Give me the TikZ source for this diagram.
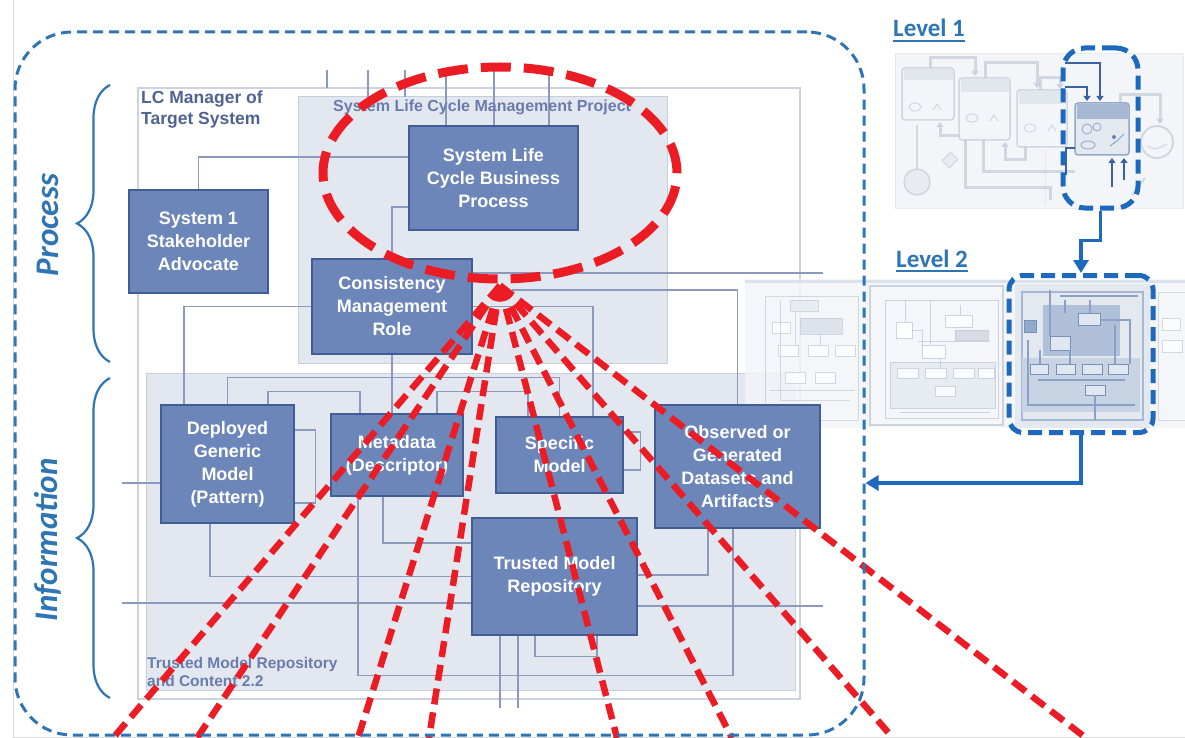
\documentclass[tikz,border=0pt]{standalone}
\usepackage{fontspec}
\setmainfont{Liberation Sans}
\newfontfamily\headfont{Carlito}
\usetikzlibrary{shapes.geometric,calc,decorations.pathreplacing,arrows.meta}

\definecolor{boxfill}{HTML}{6C86BA}
\definecolor{boxedge}{HTML}{415D95}
\definecolor{wire}{HTML}{8B99BC}
\definecolor{panel}{HTML}{E3E7EF}
\definecolor{paneledge}{HTML}{C6CDDB}
\definecolor{frameline}{HTML}{CCD3E0}
\definecolor{outline}{HTML}{2E75B6}
\definecolor{hilite}{HTML}{1C69BE}
\definecolor{alert}{HTML}{EC1C24}
\definecolor{caption}{HTML}{4F6291}
\definecolor{captionlight}{HTML}{6A7CAC}
\definecolor{thumbbg}{HTML}{F3F5F9}
\definecolor{thumbedge}{HTML}{DCE2EB}
\definecolor{thumbline}{HTML}{C3CBD8}
\definecolor{thumbfill}{HTML}{E4E9F0}
\definecolor{deepline}{HTML}{3A62A0}
\definecolor{pagerule}{HTML}{DADADA}

\pgfdeclarelayer{under}
\pgfsetlayers{under,main}

\begin{document}
\begin{tikzpicture}[x=1pt,y=-1pt,
  box/.style={draw=boxedge, fill=boxfill, line width=1.6pt, text=white,
    font=\fontsize{18}{23}\selectfont\bfseries, align=center, inner sep=0pt},
  wire/.style={draw=wire, line width=1.2pt},
  panelbox/.style={draw=paneledge, fill=panel, line width=1pt},
  fanline/.style={draw=alert, line width=6.5pt, dash pattern=on 16pt off 8pt},
  curly/.style={draw=outline, line width=2.2pt, decorate, decoration={brace, amplitude=33pt}},
  sidelabel/.style={rotate=90, text=outline, font=\headfont\bfseries\itshape\fontsize{33}{33}\selectfont, inner sep=0pt},
  levellabel/.style={anchor=base west, text=outline, font=\headfont\bfseries\fontsize{25}{25}\selectfont, inner sep=0pt},
  hibox/.style={draw=hilite, line width=5pt, dash pattern=on 14pt off 7pt, inner sep=0pt},
  levelarrow/.style={draw=hilite, line width=3.8pt, -{Triangle[length=13pt,width=15pt]}},
  card/.style={draw=thumbline, fill=thumbbg, line width=1.5pt, rounded corners=3pt},
  fatarrow/.style={draw=thumbline, line width=3pt, -{Triangle[length=5pt,width=7pt]}},
  darkarrow/.style={draw=deepline, line width=2.4pt, -{Triangle[length=5pt,width=7pt]}},
  mini/.style={draw=thumbline, fill=white, line width=1pt},
  minidark/.style={draw=deepline!70, fill=white!85!deepline, line width=1pt}
]
\useasboundingbox (0,0) rectangle (1185,738);

% ---------- boxes ----------
\node[box, minimum width=139pt, minimum height=103pt] (stake) at (198.5,241.5) {System 1\\Stakeholder\\Advocate};
\node[box, minimum width=169pt, minimum height=104pt] (slc)   at (493.5,178)   {System Life\\Cycle Business\\Process};
\node[box, minimum width=160pt, minimum height=95pt]  (cmr)   at (392,306.5)   {Consistency\\Management\\Role};
\node[box, minimum width=133pt, minimum height=118pt] (dgm)   at (227.5,464)   {Deployed\\Generic\\Model\\(Pattern)};
\node[box, minimum width=132pt, minimum height=82pt]  (meta)  at (397,455)     {Metadata\\(Descriptor)};
\node[box, minimum width=127pt, minimum height=76pt]  (spec)  at (559.5,455)   {Specific\\Model};
\node[box, minimum width=165pt, minimum height=123pt] (obs)   at (737.5,466.5) {Observed or\\Generated\\Datasets and\\Artifacts};
\node[box, minimum width=165pt, minimum height=117pt] (tmr)   at (554.5,576.5) {Trusted Model\\Repository};

% free ends of the wiring
\coordinate (stubA) at (327,70);
\coordinate (stubB) at (368,70);
\coordinate (stubC) at (405,70);
\coordinate (eastA) at (823,273);
\coordinate (northB) at (512,290);
\coordinate (westA) at (122,603);
\coordinate (eastB) at (823,606);
\coordinate (westB) at (122,483);

\begin{pgfonlayer}{under}
% faint page edge
\draw[pagerule, line width=0.8pt] (13,0) -- (13,737) -- (1185,737);
% frames and panels
\draw[frameline, line width=1.2pt] (138,88) rectangle (800,699);
\draw[panelbox] (298,97) rectangle (667,363);
\draw[panelbox] (146,373) rectangle (795,690);

% wiring
\draw[wire] (stubA) -- ++(0,18);
\draw[wire] (stubB) -- ++(0,27);
\draw[wire] (stubC) -- ++(0,27);
\draw[wire] ([xshift=-47.5pt]slc.north) -- ++(0,-56);
\draw[wire] ([xshift=0.5pt]slc.north) -- ++(0,-56);
\draw[wire] ([xshift=55.5pt]slc.north) -- ++(0,-56);
\draw[wire] (stake.north) |- ([yshift=21pt]slc.west);
\draw[wire] ([yshift=-29pt]slc.west) -| (cmr.north);
\draw[wire] ([yshift=33.5pt]cmr.east) -- (eastA);
\draw[wire] (obs.north) |- (northB);
\draw[wire] (cmr.east) -| ([xshift=33.5pt]spec.north);
\draw[wire] (cmr.west) -| ([xshift=-43.5pt]dgm.north);
\draw[wire] (cmr.south) -- (cmr.south |- meta.north);
\draw[wire] (dgm.north) |- ([yshift=39pt]spec.north) -- (spec.north);
\draw[wire] ([xshift=40.5pt]dgm.north) |- ([xshift=-37pt,yshift=22pt]meta.north) -- ([xshift=-37pt]meta.north);
\draw[wire] ([xshift=40pt]meta.north) |- ([xshift=-31.5pt,yshift=25pt]spec.north) -- ([xshift=-31.5pt]spec.north);
\draw[wire] ([yshift=34pt]dgm.east) -- ++(21,0) |- ([yshift=-39pt]dgm.east);
\draw[wire] ([xshift=-17.5pt]dgm.south) |- (tmr.west);
\draw[wire] ([xshift=-14pt]meta.south) |- ([yshift=33.5pt]tmr.west);
\draw[wire] (westA) -- ([yshift=-26.5pt]tmr.west);
\draw[wire] ([yshift=-29.5pt]tmr.east) -- (eastB);
\draw[wire] (westB) -- ([yshift=-19pt]dgm.west);
\draw[wire] ([xshift=-39pt]meta.south) |- ([xshift=-4.5pt,yshift=-147pt]obs.south) -- ([xshift=-4.5pt]obs.south);
\draw[wire] ([xshift=-29.5pt]obs.south) |- ([yshift=1.5pt]tmr.east);
\draw[wire] ([xshift=-54.5pt]tmr.south) -- ++(0,72);
\draw[wire] ([xshift=-36.5pt]tmr.south) -- ++(0,72);
\draw[wire] ([xshift=-19.5pt]tmr.south) |- ([xshift=42.5pt,yshift=-21pt]tmr.south) -- ([xshift=42.5pt]tmr.south);
\draw[wire] ([yshift=23pt]spec.east) -- ++(17,0) |- ([yshift=-15pt]spec.east);

% level 2 strip (faded)
\fill[thumbbg, opacity=.85] (745,279) rectangle (1185,428);
\draw[thumbedge, line width=3pt] (745,281) -- (1185,281);
\begin{scope}[line width=1pt, opacity=.7]
  \draw[thumbline] (765,296) rectangle (858,420);
  \draw[mini, fill=thumbfill] (790,300) rectangle (818,311);
  \draw[mini, fill=thumbline!70] (800,318) rectangle (842,334);
  \draw[mini] (772,322) rectangle (790,333);
  \draw[mini] (778,345) rectangle (798,356);
  \draw[mini] (808,345) rectangle (828,356);
  \draw[mini] (835,345) rectangle (855,356);
  \draw[mini] (785,372) rectangle (805,383);
  \draw[mini] (815,372) rectangle (835,383);
  \draw[thumbline] (780,300) -- (780,400) -- (850,400);
  \draw[thumbline] (770,390) -- (855,390);
  \draw[thumbline] (795,311) -- (795,345) (820,334) -- (820,345);
\end{scope}
\end{pgfonlayer}

% level 2 strip, remaining parts
\begin{scope}[line width=1pt, opacity=.8]
  \draw[thumbline, line width=2pt] (870,286) rectangle (1003,425);
  \draw[thumbline] (885,300) rectangle (998,418);
  \draw[mini] (896,322) rectangle (912,338);
  \draw[mini] (945,315) rectangle (972,327);
  \draw[mini, fill=thumbline!80] (955,330) rectangle (988,340);
  \draw[mini] (922,345) rectangle (945,358);
  \draw[thumbline, fill=thumbfill] (890,362) rectangle (995,408);
  \draw[mini] (897,368) rectangle (918,378);
  \draw[mini] (925,368) rectangle (946,378);
  \draw[mini] (953,368) rectangle (974,378);
  \draw[mini] (978,368) rectangle (994,378);
  \draw[mini] (935,386) rectangle (955,396);
  \draw[thumbline] (905,300) -- (905,322) (930,300) -- (930,345) (960,305) -- (960,315)
    (918,341) -- (990,341) (912,330) -- (922,330) -- (922,345) (940,358) -- (940,368)
    (900,412) -- (990,412);
\end{scope}
% highlighted sub-diagram
\fill[thumbfill] (1015,284) rectangle (1150,428);
\begin{scope}[line width=1.1pt]
  \draw[deepline!45] (1022,292) rectangle (1143,420);
  \fill[deepline!40] (1043,305) rectangle (1120,356);
  \fill[deepline!28] (1022,358) rectangle (1140,412);
  \draw[minidark] (1078,313) rectangle (1100,325);
  \draw[minidark] (1050,336) rectangle (1070,350);
  \draw[minidark, fill=deepline!55] (1024,320) rectangle (1036,332);
  \draw[minidark] (1030,364) rectangle (1048,374);
  \draw[minidark] (1056,364) rectangle (1075,374);
  \draw[minidark] (1082,364) rectangle (1102,374);
  \draw[minidark] (1108,364) rectangle (1128,374);
  \draw[minidark] (1085,385) rectangle (1105,395);
  \draw[deepline!60] (1050,290) -- (1050,336) (1060,296) -- (1138,296) (1065,300) -- (1065,313)
    (1090,300) -- (1090,313) (1100,320) -- (1130,320) -- (1130,364) (1040,350) -- (1040,364)
    (1038,380) -- (1125,380) (1070,350) -- (1070,364) (1095,395) -- (1095,420)
    (1028,340) -- (1028,405) -- (1135,405) (1115,325) -- (1115,364);
\end{scope}
\begin{scope}[line width=1pt, opacity=.7]
  \draw[thumbline] (1158,292) rectangle (1185,420);
  \draw[mini] (1162,318) rectangle (1180,330);
  \draw[mini] (1162,340) rectangle (1182,352);
\end{scope}

% ---------- panel captions ----------
\node[anchor=north west, align=left, inner sep=0pt, text=caption,
  font=\fontsize{17.5}{20.5}\selectfont\bfseries] (lcm) at (141,91) {LC Manager of\\Target System};
\node[anchor=base west, inner sep=0pt, text=captionlight,
  font=\fontsize{16}{16}\selectfont\bfseries] (slcm) at (333,112) {System Life Cycle Management Project};
\node[anchor=north west, align=left, inner sep=0pt, text=captionlight,
  font=\fontsize{15.5}{18.5}\selectfont\bfseries] (tmrc) at (147,657) {Trusted Model Repository\\and Content 2.2};

% ---------- braces and side labels ----------
\draw[curly] (110,362) -- (110,85);
\draw[curly] (110,698) -- (110,378);
\node[sidelabel] (proc) at (48,225) {Process};
\node[sidelabel] (info) at (48,540) {Information};

% ---------- level 1 thumbnail ----------
\fill[thumbbg] (895,54) rectangle (1183,208);
\begin{scope}[opacity=.7]
\draw[thumbedge, line width=1pt] (895,54) rectangle (1183,208);
\draw[thumbedge, line width=1pt] (1045,150) -- (1045,205);
\draw[card] (902,68) rectangle (954,120);
\fill[thumbline!60] (903.5,69.5) rectangle (952.5,80);
\draw[card] (959,78) rectangle (1010,140);
\fill[thumbline!60] (960.5,79.5) rectangle (1008.5,92);
\draw[card] (1017,90) rectangle (1067,147);
\fill[thumbline!60] (1018.5,91.5) rectangle (1065.5,104);
\foreach \cx/\cy in {915/107, 972/118, 1030/128}{
  \draw[thumbline, line width=1pt] (\cx,\cy) ellipse (6 and 4);
  \draw[thumbline, line width=1pt] (\cx+22,\cy-3) -- ++(4,6) ++(-4,-6) -- ++(-4,6);
}
\draw[thumbline, fill=thumbbg, line width=2pt] (1157,142) circle (16);
\draw[thumbline!80, line width=1.5pt] (1147,146) .. controls (1155,150) .. (1167,144);
\draw[thumbline, fill=thumbfill, line width=1.5pt] (917,182) circle (13);
\draw[thumbline, fill=thumbfill, line width=1pt, rotate around={45:(950,160)}] (944,155) rectangle (956,165);
\draw[fatarrow] (930,68) |- (975,58) -- (975,76);
\draw[fatarrow] (985,78) |- (1037,63) -- (1037,88);
\draw[fatarrow] (959,136) -| (940,122);
\draw[fatarrow] (1025,147) |- (1005,160) -- (1005,142);
\draw[fatarrow] (1040,90) |- (1060,78) -- (1060,89);
\draw[fatarrow] (1120,103) |- (1160,95) -- (1160,124);
\draw[thumbline, line width=3pt] (983,140) |- (1075,172);
\draw[thumbline, line width=3pt] (965,140) |- (1050,188) -- (1050,200);
\draw[thumbline, line width=2pt] (917,169) -- (917,125);
\draw[thumbline, line width=2pt] (1132,195) -- (1145,178);
\end{scope}
\draw[card, draw=deepline!55, fill=thumbfill] (1075,103) rectangle (1129,155);
\fill[deepline!45] (1076.5,104.5) rectangle (1127.5,119);
\draw[deepline!50, line width=1pt] (1087,129) circle (5) (1097,127) circle (4) (1088,145) ellipse (7 and 4);
\fill[deepline!80] (1114,137) circle (2);
\draw[deepline!60, line width=1pt] (1110,146) -- (1118,140) -- (1124,134);
\draw[darkarrow] (1065,63) -| (1100,101);
\draw[darkarrow] (1065,87) -| (1087,101);
\draw[darkarrow] (1112,187) -- (1112,158);
\draw[darkarrow] (1124,180) -- (1124,158);
\draw[deepline, line width=2.4pt] (1075,148) -| (1066,175);

% ---------- red focus ellipse and fan ----------
\node[draw=alert, line width=9pt, dash pattern=on 30pt off 13pt, ellipse,
  minimum width=354pt, minimum height=212pt, inner sep=0pt] (focus) at (500,173) {};
\coordinate (f1) at (113,738);
\coordinate (f2) at (197,738);
\coordinate (f3) at (358,738);
\coordinate (f4) at (429,738);
\coordinate (f5) at (617,738);
\coordinate (f6) at (732,738);
\coordinate (f7) at (893,738);
\coordinate (f8) at (1086,738);
\foreach \e in {f1,f2,f3,f4,f5,f6,f7,f8}
  \draw[fanline] ([yshift=-2pt]focus.south) -- (\e);

% ---------- scope outline ----------
\node[draw=outline, line width=3pt, dash pattern=on 10pt off 6pt, rounded corners=57pt,
  minimum width=849pt, minimum height=703pt, inner sep=0pt] (scope) at (439.5,383.5) {};

% ---------- level highlights, labels, arrows ----------
\node[hibox, rounded corners=22pt, minimum width=75pt, minimum height=160pt] (l1hl) at (1100.5,128) {};
\node[hibox, rounded corners=14pt, minimum width=144pt, minimum height=157pt] (l2hl) at (1081,354) {};
\node[levellabel] (lv1) at (893,37) {Level 1};
\draw[outline, line width=1.6pt] ([yshift=-4pt]lv1.base west) -- ([yshift=-4pt]lv1.base east);
\node[levellabel] (lv2) at (896,267) {Level 2};
\draw[outline, line width=1.6pt] ([yshift=-4pt]lv2.base west) -- ([yshift=-4pt]lv2.base east);
\draw[levelarrow] (l1hl.south) -- ++(0,30) -| (l2hl.north);
\draw[levelarrow] (l2hl.south) |- ([yshift=-99.5pt]scope.east);
\end{tikzpicture}
\end{document}
